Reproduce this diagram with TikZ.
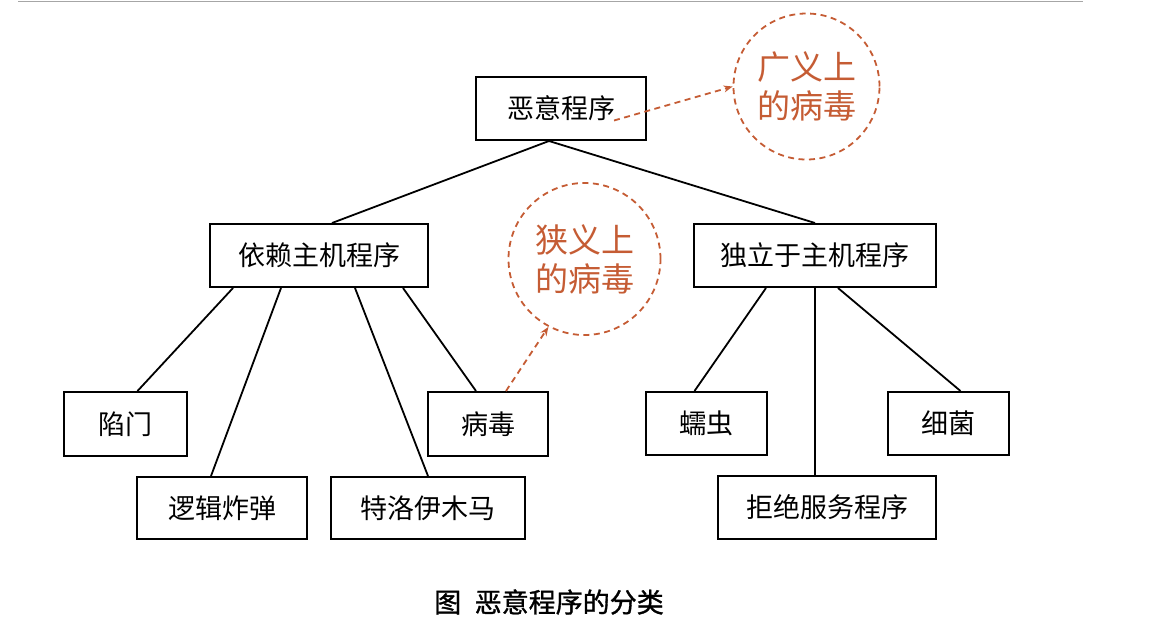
\documentclass[tikz,border=0pt]{standalone}
\usepackage{fontspec}
\setmainfont{Noto Sans CJK SC}
\newfontfamily\cjk{Noto Sans CJK SC}
\newfontfamily\cjkcap[FakeBold=1.2]{Noto Sans CJK SC}
\usetikzlibrary{arrows.meta}
\definecolor{rust}{RGB}{197,92,52}
\begin{document}
\begin{tikzpicture}[x=1pt,y=-1pt,
  box/.style={draw=black,line width=2pt,inner sep=0pt,font=\cjk\fontsize{27}{27}\selectfont,text=black},
  link/.style={draw=black,line width=1.8pt},
  bubble/.style={draw=rust,dash pattern=on 6pt off 4.5pt,line width=1.8pt,circle,inner sep=0pt,text=rust,align=center,font=\cjk\fontsize{33}{39}\selectfont},
  hint/.style={draw=rust,line width=1.8pt,dash pattern=on 6pt off 4.5pt,-{Stealth[length=9pt,width=7pt]}}]
\useasboundingbox (0,0) rectangle (1151,622);
\draw[line width=1.8pt,gray!70] (18,1.5) -- (1083,1.5);
% boxes
\node[box,minimum width=170pt,minimum height=63pt] (root) at (561,108.5) {恶意程序};
\node[box,minimum width=218pt,minimum height=63pt] (dep) at (319,255.5) {依赖主机程序};
\node[box,minimum width=242pt,minimum height=63pt] (ind) at (815,255.5) {独立于主机程序};
\node[box,minimum width=123pt,minimum height=64pt] (trap) at (125.5,424) {陷门};
\node[box,minimum width=120pt,minimum height=64pt] (virus) at (488,424) {病毒};
\node[box,minimum width=170pt,minimum height=62pt] (logic) at (222,508) {逻辑炸弹};
\node[box,minimum width=194pt,minimum height=62pt] (troj) at (428,508) {特洛伊木马};
\node[box,minimum width=121pt,minimum height=63pt] (worm) at (706.5,423.5) {蠕虫};
\node[box,minimum width=121pt,minimum height=63pt] (bact) at (948.5,423.5) {细菌};
\node[box,minimum width=218pt,minimum height=63pt] (dos) at (827,507.5) {拒绝服务程序};
% bubbles
\node[bubble,minimum size=146pt] (broad) at (806.5,86.5) {广义上\\的病毒};
\node[bubble,minimum size=152pt] (narrow) at (584.5,259) {狭义上\\的病毒};
% tree links
\draw[link] ([xshift=-12pt]root.south) -- ([xshift=13pt]dep.north);
\draw[link] ([xshift=-12pt]root.south) -- (ind.north);
\draw[link] ([xshift=24pt]dep.south west) -- ([xshift=12pt]trap.north);
\draw[link] ([xshift=72pt]dep.south west) -- ([xshift=-11pt]logic.north);
\draw[link] ([xshift=146pt]dep.south west) -- (troj.north);
\draw[link] ([xshift=194pt]dep.south west) -- ([xshift=-12pt]virus.north);
\draw[link] ([xshift=73pt]ind.south west) -- ([xshift=-12pt]worm.north);
\draw[link] (ind.south) -- ([xshift=-12pt]dos.north);
\draw[link] ([xshift=145pt]ind.south west) -- ([xshift=12pt]bact.north);
% dashed pointers
\draw[hint] ([xshift=53pt,yshift=-12pt]root.center) -- (broad.west);
\draw[hint] ([xshift=18pt]virus.north) -- (narrow.242);
% caption
\node[font=\cjkcap\fontsize{27}{27}\selectfont] (cap) at (549,602) {图\hspace{0.5em}恶意程序的分类};
\end{tikzpicture}
\end{document}
